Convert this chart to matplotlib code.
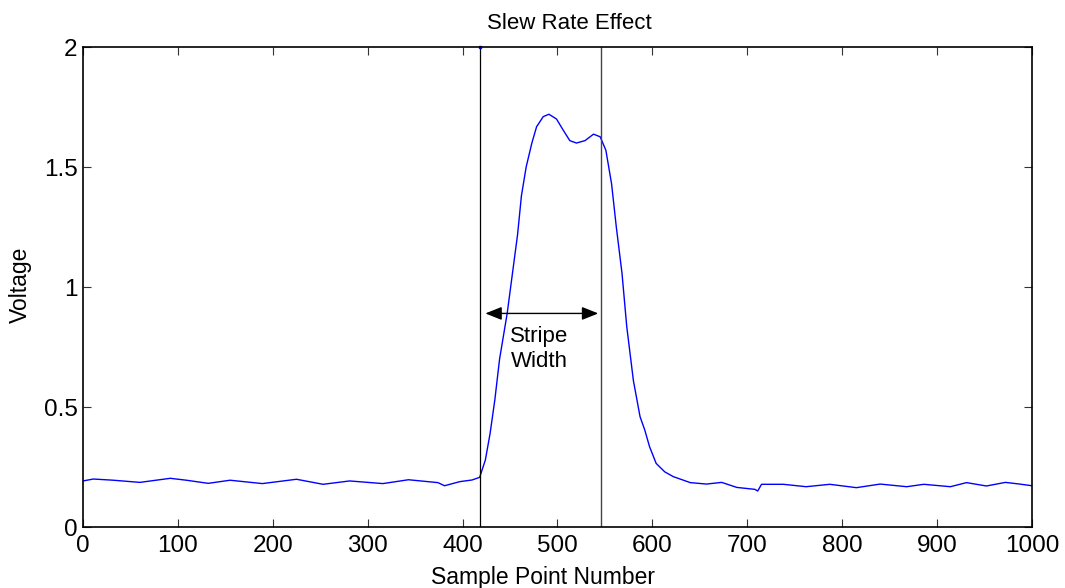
import matplotlib.pyplot as plt
import numpy as np

plt.rcParams['font.family'] = ['Liberation Sans', 'DejaVu Sans']

# sample point number vs. voltage
sample = [0, 11, 32, 60, 92, 109, 132, 155, 189, 225, 253, 281, 316, 343, 374, 381,
          397, 410, 418, 424, 429, 434, 439, 447, 452, 458, 462, 467, 473, 478, 485,
          491, 499, 506, 513, 520, 529, 538, 545, 551, 557, 562, 568, 573, 580, 587,
          592, 597, 604, 613, 622, 640, 657, 673, 689, 708, 711, 715, 738, 762, 787,
          815, 840, 868, 886, 914, 931, 952, 972, 987, 1000]
voltage = [0.192, 0.200, 0.195, 0.186, 0.203, 0.195, 0.182, 0.195, 0.181, 0.199, 0.178,
           0.192, 0.181, 0.197, 0.185, 0.172, 0.189, 0.196, 0.207, 0.279, 0.39, 0.53,
           0.70, 0.89, 1.04, 1.22, 1.38, 1.50, 1.60, 1.668, 1.71, 1.72, 1.70, 1.654,
           1.61, 1.60, 1.61, 1.637, 1.626, 1.57, 1.43, 1.25, 1.057, 0.835, 0.61, 0.46,
           0.404, 0.335, 0.265, 0.23, 0.21, 0.185, 0.179, 0.186, 0.165, 0.157, 0.150,
           0.178, 0.178, 0.168, 0.178, 0.164, 0.179, 0.168, 0.178, 0.168, 0.185,
           0.171, 0.186, 0.179, 0.172]

edge_left = 418
edge_right = 545.5
arrow_y = 0.89
arrow_x = [424, 543]

xticks = np.arange(0, 1001, 100)
yticks = [0, 0.5, 1, 1.5, 2]
ytick_labels = ['0', '0.5', '1', '1.5', '2']

fig = plt.figure(figsize=(10.65, 5.88), dpi=100)
ax = fig.add_axes([0.0779, 0.1037, 0.8911, 0.8163])

ax.plot(sample, voltage, color='#0000ff', linewidth=1)
ax.axvline(edge_left, color='black', linewidth=0.9)
ax.axvline(edge_right, color='#444444', linewidth=1.0)
ax.plot([edge_left], [2], 's', color='#0000ff', markersize=2, clip_on=False)

ax.annotate('', xy=(arrow_x[0], arrow_y), xytext=(arrow_x[1], arrow_y),
            arrowprops=dict(arrowstyle='<|-|>,head_length=1.0,head_width=0.4',
                            color='black', linewidth=1, shrinkA=0, shrinkB=0))
ax.text(480.5, 0.74, 'Stripe\nWidth', ha='center', va='center', fontsize=16,
        linespacing=1.25)

ax.set_xlim(0, 1000)
ax.set_ylim(0, 2)
ax.set_xticks(xticks)
ax.set_yticks(yticks)
ax.set_yticklabels(ytick_labels)
ax.tick_params(direction='in', length=6, width=0.8, top=True, right=True,
               labelsize=17.5, color='#333333')
ax.tick_params(axis='x', pad=6)
ax.tick_params(axis='y', pad=4)
for s in ax.spines.values():
    s.set_linewidth(1.2)

ax.set_title('Slew Rate Effect', fontsize=16, x=0.513, pad=13)
ax.set_xlabel('Sample Point Number', fontsize=16.5)
ax.set_ylabel('Voltage', fontsize=16.5)
ax.xaxis.set_label_coords(0.485, -0.082)
ax.yaxis.set_label_coords(-0.054, 0.505)

plt.savefig('out.png', dpi=100)
